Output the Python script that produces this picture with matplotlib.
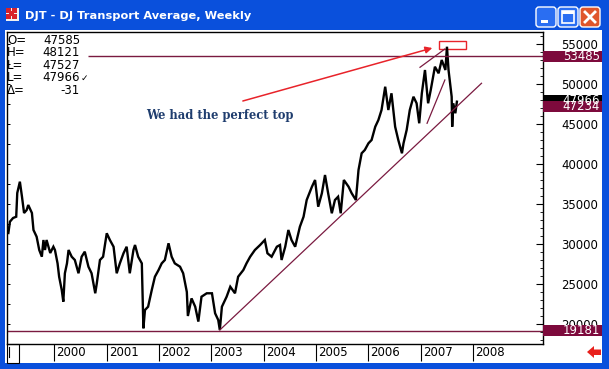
import numpy as np
import matplotlib.pyplot as plt
import matplotlib.transforms as mtransforms
from matplotlib.patches import Rectangle, Polygon, FancyBboxPatch

plt.rcParams['font.family'] = ['DejaVu Sans']

# DJT weekly closes (x10), decimal years
years = [1999.12, 1999.15, 1999.21, 1999.27, 1999.29, 1999.34, 1999.38, 1999.42, 1999.47, 1999.50,
         1999.57, 1999.60, 1999.66, 1999.71, 1999.76, 1999.79, 1999.82, 1999.85, 1999.92, 1999.98,
         2000.01, 2000.06, 2000.09, 2000.14, 2000.17, 2000.20, 2000.24, 2000.27, 2000.33, 2000.39,
         2000.46, 2000.52, 2000.58, 2000.65, 2000.71, 2000.78, 2000.81, 2000.87, 2000.93, 2001.00,
         2001.06, 2001.13, 2001.19, 2001.25, 2001.32, 2001.38, 2001.44, 2001.51, 2001.54, 2001.60,
         2001.67, 2001.70, 2001.73, 2001.79, 2001.86, 2001.92, 2001.99, 2002.05, 2002.11, 2002.18,
         2002.24, 2002.30, 2002.40, 2002.46, 2002.53, 2002.55, 2002.62, 2002.69, 2002.75, 2002.81,
         2002.91, 2003.01, 2003.07, 2003.13, 2003.16, 2003.20, 2003.29, 2003.36, 2003.45, 2003.51,
         2003.61, 2003.67, 2003.74, 2003.83, 2003.93, 2004.02, 2004.07, 2004.15, 2004.25, 2004.31,
         2004.34, 2004.41, 2004.47, 2004.53, 2004.60, 2004.69, 2004.76, 2004.82, 2004.92, 2004.98,
         2005.01, 2005.04, 2005.11, 2005.17, 2005.23, 2005.30, 2005.36, 2005.42, 2005.47, 2005.53,
         2005.62, 2005.68, 2005.76, 2005.81, 2005.87, 2005.93, 2006.00, 2006.06, 2006.13, 2006.19,
         2006.25, 2006.32, 2006.38, 2006.44, 2006.51, 2006.57, 2006.64, 2006.67, 2006.73, 2006.79,
         2006.86, 2006.92, 2006.97, 2007.02, 2007.08, 2007.14, 2007.19, 2007.27, 2007.34, 2007.40,
         2007.47, 2007.50, 2007.53, 2007.56, 2007.59, 2007.60, 2007.62, 2007.66, 2007.69]
prices = [31375, 32790, 33250, 33410, 36375, 37790, 35920, 33875, 34250, 34875,
          33875, 31750, 30910, 29250, 28410, 30500, 29250, 30500, 28875, 29660,
          29250, 27580, 25910, 24250, 22790, 26340, 27580, 29250, 28410, 28000,
          26340, 28410, 29040, 27160, 26340, 23840, 25090, 28000, 28410, 31340,
          30500, 29660, 26340, 27580, 28840, 29660, 26340, 29250, 29875, 28410,
          27580, 19460, 21750, 22160, 24250, 25910, 26750, 27580, 28000, 30090,
          28410, 27580, 27160, 26340, 24000, 21000, 23200, 22160, 20300, 23410,
          23840, 23840, 21340, 20500, 19250, 22160, 23410, 24660, 23840, 25910,
          26750, 27580, 28410, 29250, 29875, 30500, 28840, 28410, 29660, 29875,
          28000, 29660, 31750, 30500, 29660, 32160, 33410, 35500, 37160, 38000,
          36340, 34660, 36340, 38625, 36340, 33840, 35500, 35910, 33840, 38000,
          37160, 36340, 35500, 39250, 41340, 41750, 42590, 43000, 44660, 45500,
          46750, 49660, 46750, 48840, 44660, 43000, 41340, 42590, 44250, 46750,
          48410, 47590, 45090, 48840, 51750, 47590, 49250, 52160, 51340, 53000,
          51750, 54660, 51750, 50090, 48410, 44660, 47590, 46340, 47790]

ohlc_names = ['O=', 'H=', 'L=', 'L=', '\u0394=']
ohlc_values = ['47585', '48121', '47527', '47966', '-31']

price_ticks = [20000, 25000, 30000, 35000, 40000, 45000, 50000, 55000]
year_ticks = [2000, 2001, 2002, 2003, 2004, 2005, 2006, 2007, 2008]

box_levels = [53485, 47966, 47234, 19181]
box_colors = ['#7d0a3c', '#000000', '#7d0a3c', '#7d0a3c']

resistance = 53485
support = 19181
trend_long_x = [2003.16, 2008.16]
trend_long_y = [19250, 50090]
channel_up_x = [2006.985, 2007.46]
channel_up_y = [52090, 54375]
channel_lo_x = [2007.12, 2007.46]
channel_lo_y = [45090, 50500]

MAROON = '#7a1a40'
W, H = 609, 369

fig = plt.figure(figsize=(W / 100, H / 100), dpi=100)

# window chrome in pixel coordinates
bg = fig.add_axes([0, 0, 1, 1], zorder=-1)
bg.set_xlim(0, W)
bg.set_ylim(H, 0)
bg.axis('off')
bg.add_patch(Rectangle((0, 0), W, H, fc='#0a50dc', ec='none'))
grad = np.array([[0.75], [0.5], [0.25], [0.12], [0.06], [0.02], [0.0], [0.02], [0.05], [0.10]])
title_cmap = plt.matplotlib.colors.LinearSegmentedColormap.from_list('xp', ['#0048d8', '#4a98fa'])
bg.imshow(grad, cmap=title_cmap, vmin=0, vmax=1, extent=(0, W, 30, 0), aspect='auto', interpolation='bicubic')
bg.set_xlim(0, W)
bg.set_ylim(H, 0)
bg.add_patch(Rectangle((5, 30), 597, 333, fc='white', ec='none'))

# title bar bits
bg.add_patch(Rectangle((6, 8), 13, 13, fc='#f0f0f0', ec='none'))
for (ix, iy) in [(6, 8), (12, 8), (6, 14), (12, 14), (9, 11)]:
    bg.add_patch(Rectangle((ix, iy), 5, 5, fc='#d8202a', ec='none'))
bg.text(25, 16, 'DJT - DJ Transport Average, Weekly', color='white', fontsize=8.2,
        fontweight='bold', va='center', ha='left', family='DejaVu Sans')
for bx, fc in [(536, '#2a6ef2'), (558, '#2a6ef2'), (580, '#e0552c')]:
    bg.add_patch(FancyBboxPatch((bx, 7), 20, 20, boxstyle='round,pad=0,rounding_size=3',
                                fc=fc, ec='white', lw=1))
bg.add_patch(Rectangle((541, 20), 7, 3, fc='white', ec='none'))
bg.add_patch(Rectangle((562, 11), 12, 12, fill=False, ec='white', lw=1.2))
bg.add_patch(Rectangle((562, 11), 12, 2.5, fc='white', ec='none'))
bg.plot([585, 595], [12, 22], color='white', lw=2)
bg.plot([585, 595], [22, 12], color='white', lw=2)

# OHLC readout
for i, (nm, val) in enumerate(zip(ohlc_names, ohlc_values)):
    yy = 40 + 12.6 * i
    bg.text(7, yy, nm, fontsize=8.5, va='center', ha='left', zorder=5)
    bg.text(80, yy, val, fontsize=8.5, va='center', ha='right', zorder=5)
bg.text(80.5, 40 + 12.6 * 3 + 1, '\u2713', fontsize=6.5, va='center', ha='left', zorder=5)

# scroll box and red arrow at the bottom
bg.add_patch(Rectangle((6.5, 344), 12.5, 19, fc='white', ec='black', lw=0.8))
bg.plot([8.8, 8.8], [347, 357], color='black', lw=0.8)
bg.add_patch(Polygon([(587, 352), (594, 346), (594, 349.5), (601, 349.5), (601, 355),
                      (594, 355), (594, 358)], closed=True, fc='#e8201c', ec='none'))

# price chart
ax = fig.add_axes([7 / W, 1 - 344 / H, (543 - 7) / W, (344 - 32) / H])
ax.set_facecolor('none')
xmin, xmax = 1999.094, 2009.335
ax.set_xlim(xmin, xmax)
ax.set_ylim(17500, 56500)
for s in ax.spines.values():
    s.set_color('black')
    s.set_linewidth(1)

ax.plot(years, prices, color='black', lw=1.7, solid_joinstyle='miter')

ax.hlines(resistance, 2000.64, xmax, color=MAROON, lw=1)
ax.axhline(support, color=MAROON, lw=1)
ax.plot(trend_long_x, trend_long_y, color=MAROON, lw=0.9)
ax.plot(channel_up_x, channel_up_y, color=MAROON, lw=0.9)
ax.plot(channel_lo_x, channel_lo_y, color=MAROON, lw=0.9)

ax.annotate('', xy=(2007.22, 54500), xytext=(2003.60, 47875),
            arrowprops=dict(arrowstyle='-|>', color='#e8232a', lw=1.1,
                            mutation_scale=10, shrinkA=0, shrinkB=0))
ax.add_patch(Rectangle((2007.355, 54337), 0.51, 1075, fill=False, ec='#e8232a', lw=1))
ax.text(2001.75, 46000, 'We had the perfect top', color='#1f3d6e', fontsize=8.3,
        fontweight='bold', family='DejaVu Serif', va='center', ha='left')

# left-side small ticks
ax.set_yticks(np.arange(17500, 56501, 2500))
ax.tick_params(axis='y', left=True, right=False, direction='in', length=2.5, width=0.7,
               labelleft=False)

# year ticks + labels below
ax.set_xticks(year_ticks)
ax.tick_params(axis='x', direction='out', length=12.5, width=0.8, labelbottom=False)
trans = mtransforms.blended_transform_factory(ax.transData, ax.transAxes)
for yr in year_ticks:
    ax.text(yr + 0.04, -0.028, str(yr), transform=trans, fontsize=8.5,
            va='center', ha='left', clip_on=False)

# right price scale
ax2 = ax.twinx()
ax2.set_ylim(17500, 56500)
ax2.set_yticks(price_ticks)
ax2.set_yticks(np.arange(18000, 56501, 1000), minor=True)
ax2.tick_params(axis='y', which='major', direction='in', length=5, width=0.8, pad=13,
                labelsize=8.5)
ax2.tick_params(axis='y', which='minor', direction='in', length=2.5, width=0.6)
for s in ax2.spines.values():
    s.set_visible(False)

btrans = mtransforms.blended_transform_factory(ax2.transAxes, ax2.transData)
box_w = (602 - 543) / (543 - 7)
for lvl, col in zip(box_levels, box_colors):
    ax2.add_patch(Rectangle((1.0, lvl - 700), box_w, 1400, transform=btrans,
                            fc=col, ec='none', clip_on=False, zorder=5))
    ax2.text(1.0 + box_w - 2 / 536, lvl, str(lvl), transform=btrans, color='white',
             fontsize=8.5, va='center', ha='right', clip_on=False, zorder=6)

fig.savefig('out.png', dpi=100)
